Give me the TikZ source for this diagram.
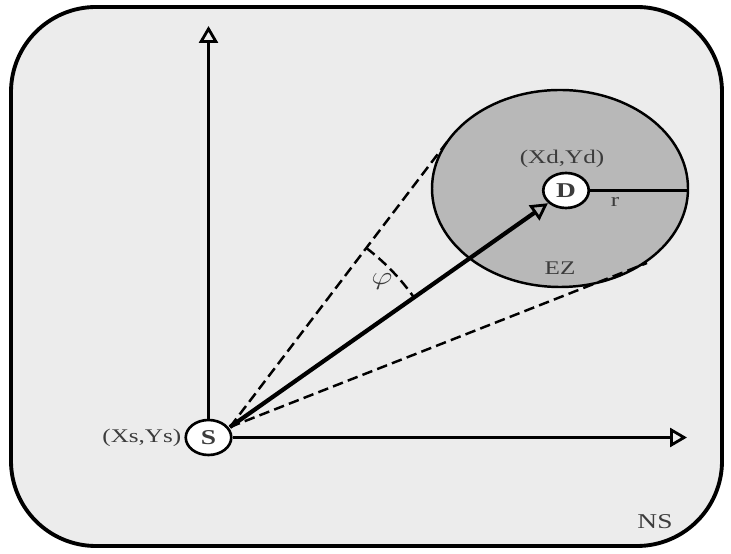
\documentclass[tikz,border=0pt]{standalone}
\usepackage{fontspec}
\setmainfont{Liberation Serif}
\usetikzlibrary{arrows.meta,shapes.geometric,calc}
\definecolor{nsgray}{RGB}{236,236,236}
\definecolor{ezgray}{RGB}{184,184,184}
\definecolor{txtgray}{RGB}{60,60,60}

\begin{document}
\begin{tikzpicture}[
  lbl/.style={font=\fontsize{11}{13}\selectfont, text=txtgray, xscale=1.3, inner sep=1pt},
  endnode/.style={circle, draw, line width=1.5pt, fill=white, minimum size=0.7cm,
                  inner sep=0pt, xscale=1.3, font=\fontsize{12}{14}\selectfont\bfseries, text=txtgray},
  axis/.style={line width=2pt, -{Triangle[open, length=0.34cm, width=0.38cm, line width=1.6pt]}},
  tangent/.style={line width=1.4pt, dash pattern=on 6pt off 3pt},
]
\useasboundingbox (0,0) rectangle (14.62,11.06);

%% Network space (NS)
\draw[line width=2.2pt, fill=nsgray, rounded corners=1.7cm] (0.22,0.14) rectangle (14.44,10.92);

%% Exclusion zone round the destination
\node[ellipse, draw, line width=1.4pt, fill=ezgray, minimum width=5.12cm,
      minimum height=3.94cm, inner sep=0pt] (EZ) at (11.2,7.29) {};

%% Source and destination
\node[endnode] (D) at (11.32,7.25) {D};
\node[endnode] (S) at (4.17,2.31) {S};

%% radius r
\draw[line width=1.8pt] (D.east) -- (D.east -| EZ.east);

%% Axes
\coordinate (ytop) at (4.2,10.54);
\coordinate (xend) at (13.74,2.34);
\draw[axis] (S.north) -- (S.north |- ytop);
\draw[axis] (S.east) -- (S.east -| xend);

%% Tangent lines (meet near S)
\coordinate (s0) at (4.6,2.52);
\coordinate (t1) at (8.94,8.22);
\coordinate (t2) at (12.94,5.8);
\draw[tangent] (s0) -- (t1);
\draw[tangent] (s0) -- (t2);

%% Direction S -> D
\draw[line width=2.4pt, -{Triangle[open, length=0.34cm, width=0.36cm, line width=1.6pt]}] (s0) -- (D);

%% Angle phi
\draw[tangent] ($(s0)!4.5cm!(t1)$) arc[start angle=52.7, end angle=35.1, radius=4.5cm];

%% Labels
\node[lbl, anchor=east] (xs) at (S.west) {(Xs,Ys)};
\node[lbl] (xd) at (11.24,7.88) {(Xd,Yd)};
\node[lbl] (r) at (12.3,7.02) {r};
\node[lbl] (ez) at (11.2,5.7) {EZ};
\node[lbl, font=\fontsize{14}{16}\selectfont] (phi) at (7.64,5.42) {$\varphi$};
\node[lbl, font=\fontsize{12}{14}\selectfont] (ns) at (13.1,0.62) {NS};

\end{tikzpicture}
\end{document}
